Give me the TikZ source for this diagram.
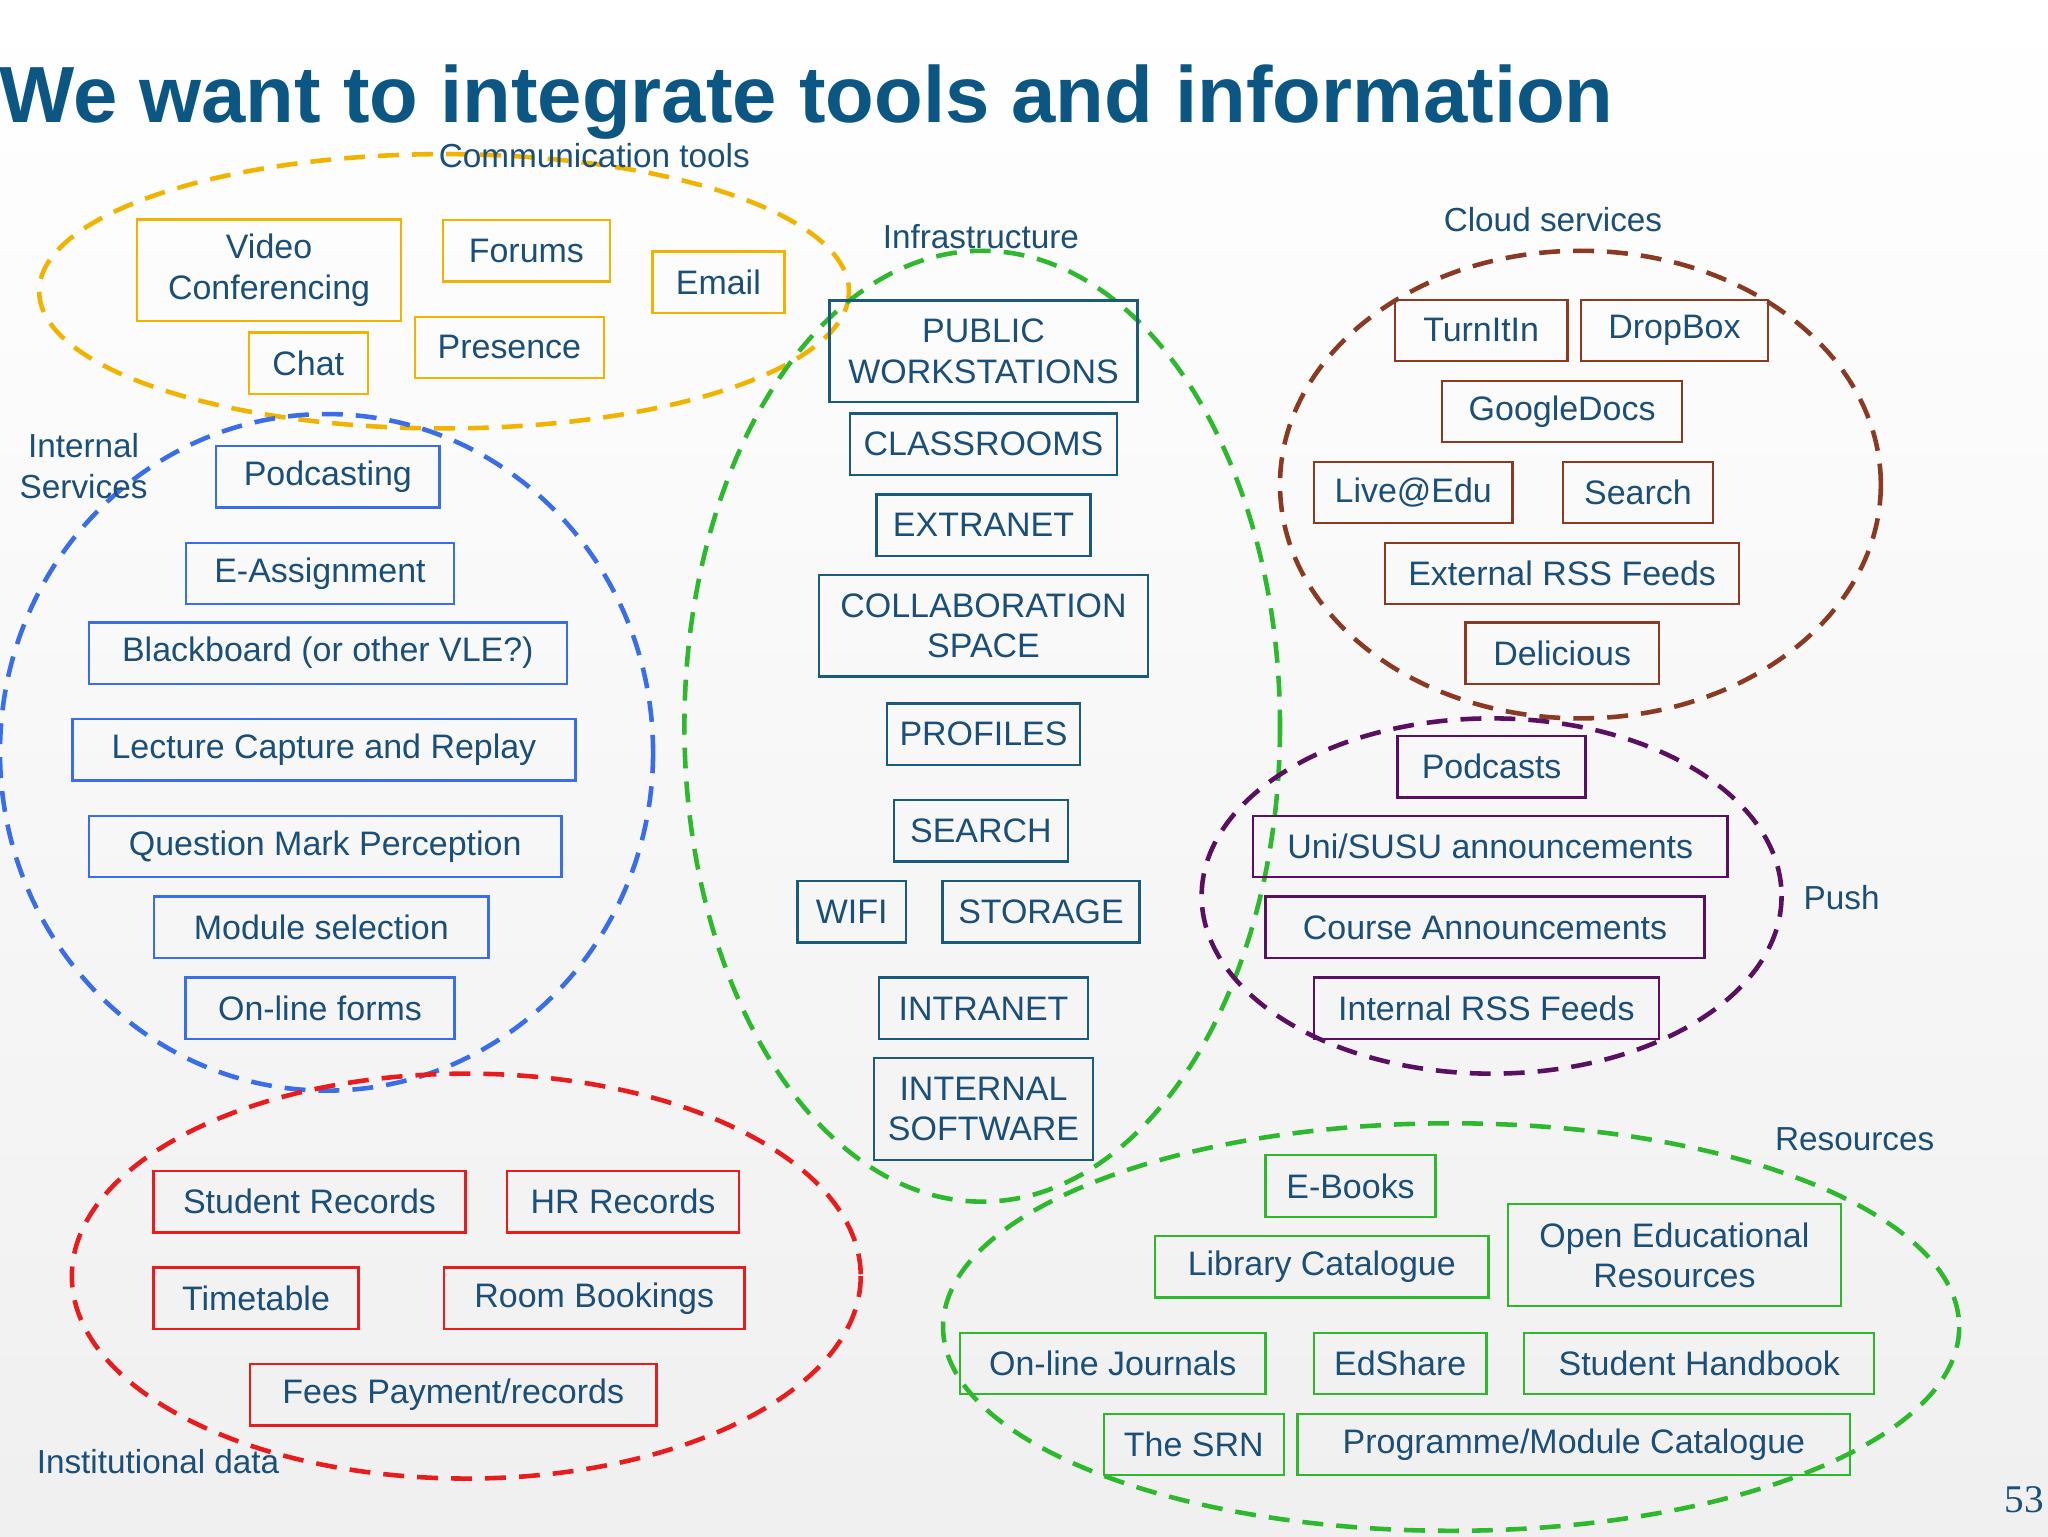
\documentclass[tikz,border=0pt]{standalone}
\usepackage{fontspec}
\setmainfont{Liberation Sans}
\newfontfamily\serifnum{Liberation Serif}
\begin{document}
\begin{tikzpicture}[x=1pt,y=-1pt,
  bx/.style={draw=#1,line width=1.8pt,text=boxtext,inner sep=0pt,minimum height=47pt,align=center,font=\fontsize{26}{31}\selectfont},
  lbl/.style={text=boxtext,font=\fontsize{25.5}{31}\selectfont,align=center},
  ell/.style={draw=#1,line width=3.5pt,dash pattern=on 16pt off 10pt}]
\definecolor{boxtext}{HTML}{1B4F78}
\definecolor{titleblue}{HTML}{0B5682}
\definecolor{cyel}{HTML}{F0B400}
\definecolor{cblue}{HTML}{3A6DE8}
\definecolor{cgreen}{HTML}{2DB82D}
\definecolor{cteal}{HTML}{1A5A7A}
\definecolor{cbrown}{HTML}{8A3A22}
\definecolor{cpurp}{HTML}{5A1060}
\definecolor{cred}{HTML}{E81C1C}
\shade[top color=white,bottom color=gray!12] (0,0) rectangle (1568,1176);
\useasboundingbox (0,0) rectangle (1568,1176);
\node[anchor=west,text=titleblue,font=\fontsize{61}{68}\selectfont\bfseries] (title) at (-4,78) {We want to integrate tools and information};
% ellipses
\draw[ell=cyel] (340,223) ellipse[x radius=310,y radius=105];
\draw[ell=cblue] (250,576) ellipse[x radius=250,y radius=259];
\draw[ell=cgreen] (752,556) ellipse[x radius=228,y radius=364];
\draw[ell=cbrown] (1210,371) ellipse[x radius=230,y radius=179];
\draw[ell=cpurp] (1142,686) ellipse[x radius=222,y radius=136];
\draw[ell=cred] (357,977) ellipse[x radius=302,y radius=155];
\draw[ell=cgreen] (1111,1016) ellipse[x radius=389,y radius=156];
% labels
\node[lbl] (lc) at (455,119) {Communication tools};
\node[lbl] (li) at (64,357) {Internal\\Services};
\node[lbl] (linf) at (751,181) {Infrastructure};
\node[lbl] (lcl) at (1189,168) {Cloud services};
\node[lbl] (lp) at (1410,687) {Push};
\node[lbl] (lin) at (121,1119) {Institutional data};
\node[lbl] (lr) at (1420,872) {Resources};
\node[text=boxtext,font=\fontsize{30}{34}\selectfont\serifnum] (pg) at (1550,1148) {53};
% communication
\node[bx=cyel,minimum width=202pt,minimum height=78pt] (vc) at (206,207) {Video\\Conferencing};
\node[bx=cyel,minimum width=128pt] (fo) at (403,192) {Forums};
\node[bx=cyel,minimum width=101pt] (em) at (550,216) {Email};
\node[bx=cyel,minimum width=91pt] (ch) at (236,278) {Chat};
\node[bx=cyel,minimum width=145pt] (pr) at (390,266) {Presence};
% internal
\node[bx=cblue,minimum width=171pt] (pc) at (251,365) {Podcasting};
\node[bx=cblue,minimum width=205pt] (ea) at (245,439) {E-Assignment};
\node[bx=cblue,minimum width=366pt] (bb) at (251,500) {Blackboard (or other VLE?)};
\node[bx=cblue,minimum width=385pt] (lcr) at (248,574) {Lecture Capture and Replay};
\node[bx=cblue,minimum width=362pt] (qm) at (249,648) {Question Mark Perception};
\node[bx=cblue,minimum width=256pt] (ms) at (246,710) {Module selection};
\node[bx=cblue,minimum width=206pt] (of) at (245,772) {On-line forms};
% infrastructure
\node[bx=cteal,minimum width=236pt,minimum height=78pt] (pw) at (753,269) {PUBLIC\\WORKSTATIONS};
\node[bx=cteal,minimum width=204pt] (cr) at (753,340) {CLASSROOMS};
\node[bx=cteal,minimum width=164pt] (ex) at (753,402) {EXTRANET};
\node[bx=cteal,minimum width=252pt,minimum height=78pt] (cs) at (753,479) {COLLABORATION\\SPACE};
\node[bx=cteal,minimum width=148pt] (pf) at (753,562) {PROFILES};
\node[bx=cteal,minimum width=133pt] (se) at (751,636) {SEARCH};
\node[bx=cteal,minimum width=83pt] (wf) at (652,698) {WIFI};
\node[bx=cteal,minimum width=151pt] (st) at (797,698) {STORAGE};
\node[bx=cteal,minimum width=160pt] (it) at (753,772) {INTRANET};
\node[bx=cteal,minimum width=168pt,minimum height=78pt] (is) at (753,849) {INTERNAL\\SOFTWARE};
% cloud
\node[bx=cbrown,minimum width=132pt] (ti) at (1134,253) {TurnItIn};
\node[bx=cbrown,minimum width=143pt] (db) at (1282,253) {DropBox};
\node[bx=cbrown,minimum width=184pt] (gd) at (1196,315) {GoogleDocs};
\node[bx=cbrown,minimum width=152pt] (le) at (1082,377) {Live@Edu};
\node[bx=cbrown,minimum width=115pt] (sr) at (1254,377) {Search};
\node[bx=cbrown,minimum width=271pt] (er) at (1196,439) {External RSS Feeds};
\node[bx=cbrown,minimum width=148pt] (de) at (1196,500) {Delicious};
% push
\node[bx=cpurp,minimum width=144pt] (pd) at (1142,587) {Podcasts};
\node[bx=cpurp,minimum width=363pt] (us) at (1141,648) {Uni/SUSU announcements};
\node[bx=cpurp,minimum width=336pt] (ca) at (1137,710) {Course Announcements};
\node[bx=cpurp,minimum width=264pt] (ir) at (1138,772) {Internal RSS Feeds};
% institutional
\node[bx=cred,minimum width=239pt] (sre) at (237,920) {Student Records};
\node[bx=cred,minimum width=178pt] (hr) at (477,920) {HR Records};
\node[bx=cred,minimum width=157pt] (tt) at (196,994) {Timetable};
\node[bx=cred,minimum width=230pt] (rb) at (455,994) {Room Bookings};
\node[bx=cred,minimum width=311pt] (fp) at (347,1068) {Fees Payment/records};
% resources
\node[bx=cgreen,minimum width=130pt] (eb) at (1034,908) {E-Books};
\node[bx=cgreen,minimum width=255pt] (lib) at (1012,970) {Library Catalogue};
\node[bx=cgreen,minimum width=255pt,minimum height=78pt] (oer) at (1282,961) {Open Educational\\Resources};
\node[bx=cgreen,minimum width=234pt] (oj) at (852,1044) {On-line Journals};
\node[bx=cgreen,minimum width=132pt] (es) at (1072,1044) {EdShare};
\node[bx=cgreen,minimum width=268pt] (sh) at (1301,1044) {Student Handbook};
\node[bx=cgreen,minimum width=138pt] (srn) at (914,1106) {The SRN};
\node[bx=cgreen,minimum width=423pt] (pm) at (1205,1106) {Programme/Module Catalogue};
\end{tikzpicture}
\end{document}
